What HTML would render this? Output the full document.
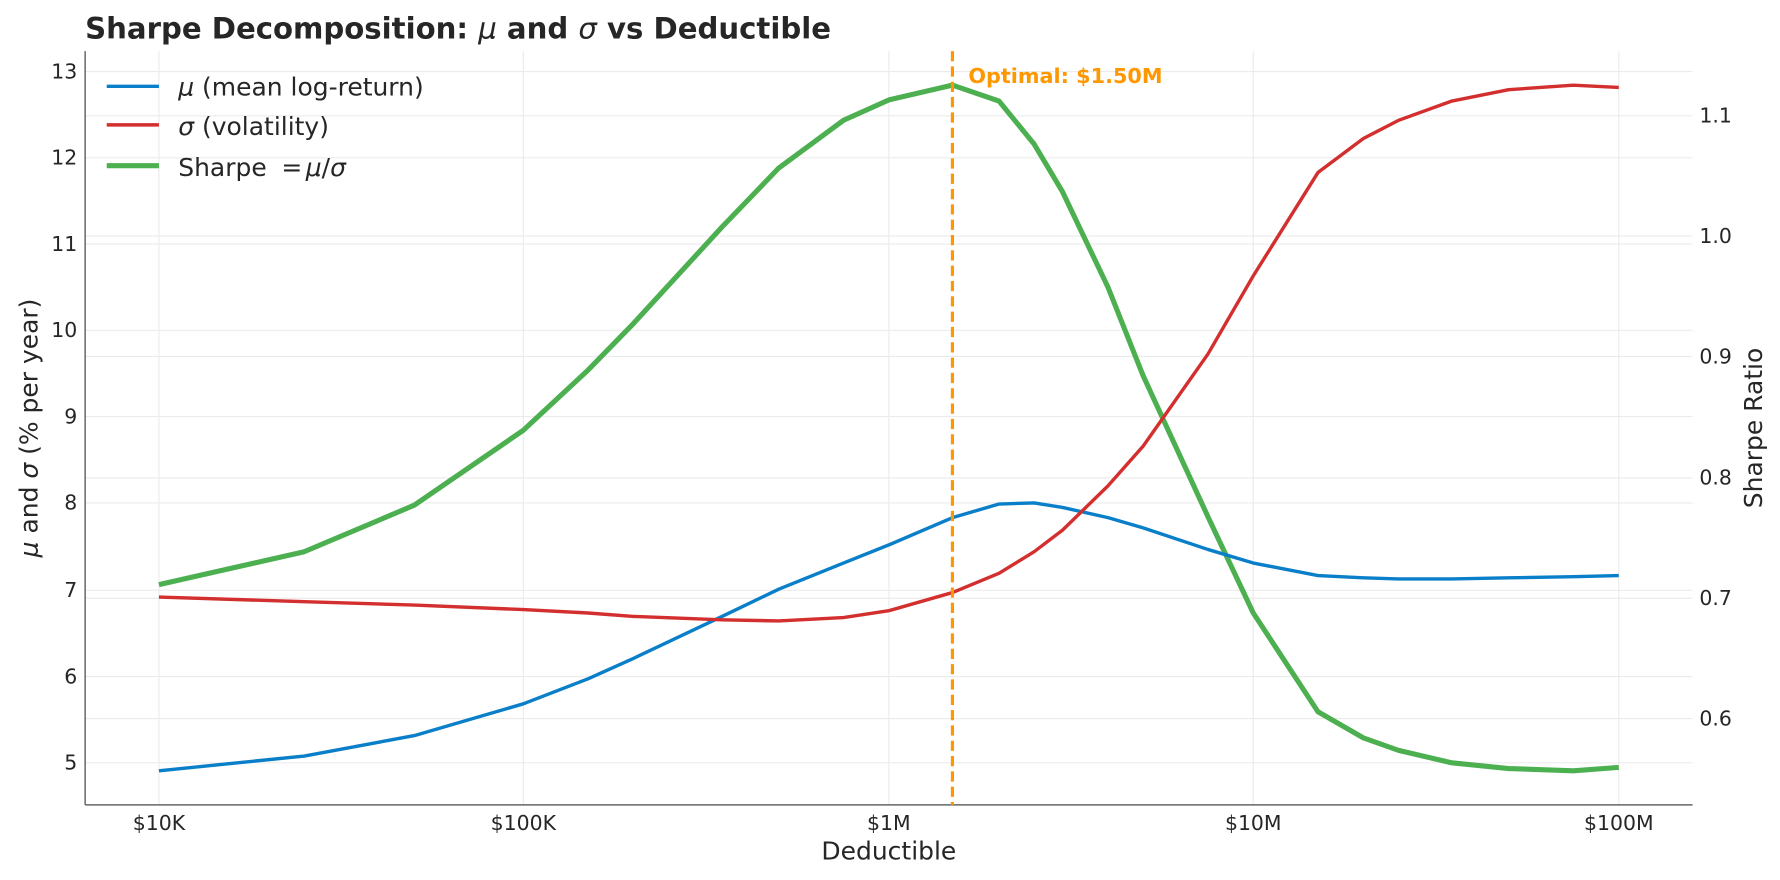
<!DOCTYPE html>
<html><head><meta charset="utf-8"><style>
html,body{margin:0;padding:0;background:#fff;}
svg{display:block;}
text{font-family:"DejaVu Sans","Liberation Sans",sans-serif;fill:#262626;}
</style></head><body>
<svg width="1780" height="880" viewBox="0 0 1568 775.2" xmlns="http://www.w3.org/2000/svg">
<g stroke="#ebebeb" stroke-width="1">
<line x1="75" x2="1491" y1="63" y2="63"/><line x1="75" x2="1491" y1="139" y2="139"/><line x1="75" x2="1491" y1="215" y2="215"/><line x1="75" x2="1491" y1="291" y2="291"/><line x1="75" x2="1491" y1="367" y2="367"/><line x1="75" x2="1491" y1="443" y2="443"/><line x1="75" x2="1491" y1="520" y2="520"/><line x1="75" x2="1491" y1="596" y2="596"/><line x1="75" x2="1491" y1="672" y2="672"/>
<line x1="75" x2="1491" y1="102" y2="102"/><line x1="75" x2="1491" y1="208" y2="208"/><line x1="75" x2="1491" y1="314" y2="314"/><line x1="75" x2="1491" y1="421" y2="421"/><line x1="75" x2="1491" y1="527" y2="527"/><line x1="75" x2="1491" y1="633" y2="633"/>
<line x1="140" x2="140" y1="45" y2="709"/><line x1="461" x2="461" y1="45" y2="709"/><line x1="783" x2="783" y1="45" y2="709"/><line x1="1104" x2="1104" y1="45" y2="709"/><line x1="1426" x2="1426" y1="45" y2="709"/>
</g>
<line x1="75" x2="75" y1="45" y2="709" stroke="#666" stroke-width="1.3"/>
<line x1="75" x2="1491" y1="709" y2="709" stroke="#666" stroke-width="1.3"/>
<polyline fill="none" stroke="#4caf50" stroke-width="4.5" stroke-linejoin="round" points="140,515 268,486 365,445 461,379 518,326 558,285 636,200 686,148 743,106 783,88 839,75 880,89 911,127 936,169 976,253 1007,331 1064,455 1104,540 1161,627 1201,650 1232,661 1279,672 1329,677 1386,679 1426,676"/>
<polyline fill="none" stroke="#0a7fc9" stroke-width="3" stroke-linejoin="round" points="140,679 268,666 365,648 461,620 518,598 558,580 636,543 686,519 743,496 783,480 839,456 880,444 911,443 936,447 976,456 1007,465 1064,484 1104,496 1161,507 1201,509 1232,510 1279,510 1329,509 1386,508 1426,507"/>
<polyline fill="none" stroke="#d32f2f" stroke-width="3" stroke-linejoin="round" points="140,526 268,530 365,533 461,537 518,540 558,543 636,546 686,547 743,544 783,538 839,522 880,505 911,486 936,467 976,428 1007,393 1064,312 1104,243 1161,152 1201,122 1232,106 1279,89 1329,79 1386,75 1426,77"/>
<line x1="839" x2="839" y1="45" y2="709" stroke="#ff9800" stroke-width="2.8" stroke-dasharray="9,4.5"/>
<text x="853" y="73" font-size="18.3" font-weight="bold" style="fill:#ff9800">Optimal: $1.50M</text>
<g font-size="18" text-anchor="end">
<text x="68" y="69">13</text><text x="68" y="145">12</text><text x="68" y="221">11</text><text x="68" y="297">10</text><text x="68" y="373">9</text><text x="68" y="449">8</text><text x="68" y="526">7</text><text x="68" y="602">6</text><text x="68" y="678">5</text>
</g>
<g font-size="18" text-anchor="start">
<text x="1497" y="108">1.1</text><text x="1497" y="214">1.0</text><text x="1497" y="320">0.9</text><text x="1497" y="427">0.8</text><text x="1497" y="533">0.7</text><text x="1497" y="639">0.6</text>
</g>
<g font-size="18" text-anchor="middle">
<text x="140" y="731">$10K</text><text x="461" y="731">$100K</text><text x="783" y="731">$1M</text><text x="1104" y="731">$10M</text><text x="1426" y="731">$100M</text>
</g>
<text x="783" y="757" font-size="22" text-anchor="middle">Deductible</text>
<text transform="translate(33,377) rotate(-90)" font-size="22" text-anchor="middle"><tspan font-style="italic">μ</tspan> and <tspan font-style="italic">σ</tspan> (% per year)</text>
<text transform="translate(1552,377) rotate(-90)" font-size="22" text-anchor="middle">Sharpe Ratio</text>
<text x="75" y="34" font-size="25.7" font-weight="bold">Sharpe Decomposition: <tspan font-style="italic" font-weight="normal">μ</tspan> and <tspan font-style="italic" font-weight="normal">σ</tspan> vs Deductible</text>
<line x1="94" x2="140" y1="76" y2="76" stroke="#0a7fc9" stroke-width="3"/>
<line x1="94" x2="140" y1="110" y2="110" stroke="#d32f2f" stroke-width="3"/>
<line x1="94" x2="140" y1="146" y2="146" stroke="#4caf50" stroke-width="4.5"/>
<g font-size="22">
<text x="157" y="84"><tspan font-style="italic">μ</tspan> (mean log-return)</text>
<text x="157" y="119"><tspan font-style="italic">σ</tspan> (volatility)</text>
<text x="157" y="155">Sharpe <tspan dx="6">=</tspan><tspan dx="3" font-style="italic">μ</tspan>/<tspan font-style="italic">σ</tspan></text>
</g>
</svg>
</body></html>
